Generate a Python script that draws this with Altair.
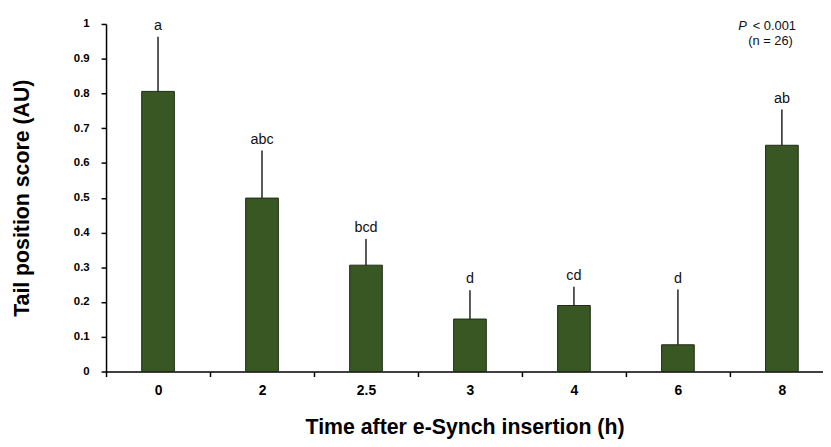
import altair as alt
import pandas as pd

times = ["0", "2", "2.5", "3", "4", "6", "8"]
means = [0.806, 0.499, 0.306, 0.151, 0.190, 0.077, 0.651]
upper = [0.963, 0.636, 0.381, 0.234, 0.244, 0.236, 0.754]
letters = ["a", "abc", "bcd", "d", "cd", "d", "ab"]

df = pd.DataFrame({"time": times, "mean": means, "upper": upper, "letter": letters})

FONT = "Arial, Liberation Sans, sans-serif"
PLOT_W = 735
PLOT_H = 351

xenc = alt.X("time:N", sort=times,
             scale=alt.Scale(type="band", paddingInner=0, paddingOuter=0),
             axis=alt.Axis(title="Time after e-Synch insertion (h)", labelAngle=0, tickBand="extent",
                           labelFontSize=14, labelPadding=7, titlePadding=20, titleX=362))
yscale = alt.Scale(domain=[0, 1], nice=False)
yaxis = alt.Axis(title="Tail position score (AU)", values=[i / 10 for i in range(11)], format="~g",
                 labelFontSize=11.5, labelPadding=12, titlePadding=40)

base = alt.Chart(df)

bars = base.mark_bar(size=33, color="#385723", stroke="#1e2a14", strokeWidth=1).encode(
    x=xenc,
    y=alt.Y("mean:Q", scale=yscale, axis=yaxis),
)

err = base.mark_rule(color="#222222", strokeWidth=1.5).encode(
    x=xenc,
    y=alt.Y("mean:Q", scale=yscale, axis=yaxis),
    y2="upper:Q",
)

txt = base.mark_text(baseline="alphabetic", dy=-7, font=FONT, fontSize=14.5, color="#111111").encode(
    x=xenc,
    y=alt.Y("upper:Q", scale=yscale, axis=yaxis),
    text="letter:N",
)

ann = pd.DataFrame({"a": [0]})
p_txt = alt.Chart(ann).mark_text(text="P", fontStyle="italic", font=FONT, fontSize=13, align="right",
                                 baseline="middle", color="#111111").encode(
    x=alt.value(647), y=alt.value(2))
lt_txt = alt.Chart(ann).mark_text(text="< 0.001", font=FONT, fontSize=13, align="left",
                                  baseline="middle", color="#111111").encode(
    x=alt.value(653), y=alt.value(2))
n_txt = alt.Chart(ann).mark_text(text="(n = 26)", font=FONT, fontSize=13, align="center",
                                 baseline="middle", color="#111111").encode(
    x=alt.value(671), y=alt.value(17))

chart = alt.layer(bars, err, txt, p_txt, lt_txt, n_txt).properties(
    width=PLOT_W, height=PLOT_H,
    autosize=alt.AutoSizeParams(type="none"),
    padding={"left": 99, "top": 14, "right": -11, "bottom": 66},
    background="white",
).configure_view(stroke=None).configure_axis(
    grid=False, domainColor="#000000", domainWidth=1.5, tickColor="#000000", tickWidth=1.5,
    tickSize=5, labelFont=FONT, labelFontWeight="bold", labelColor="#000000",
    titleFont=FONT, titleFontWeight="bold", titleFontSize=21.5, titleColor="#000000",
)

chart.save("out.html", embed_options={"renderer": "svg", "actions": False})
